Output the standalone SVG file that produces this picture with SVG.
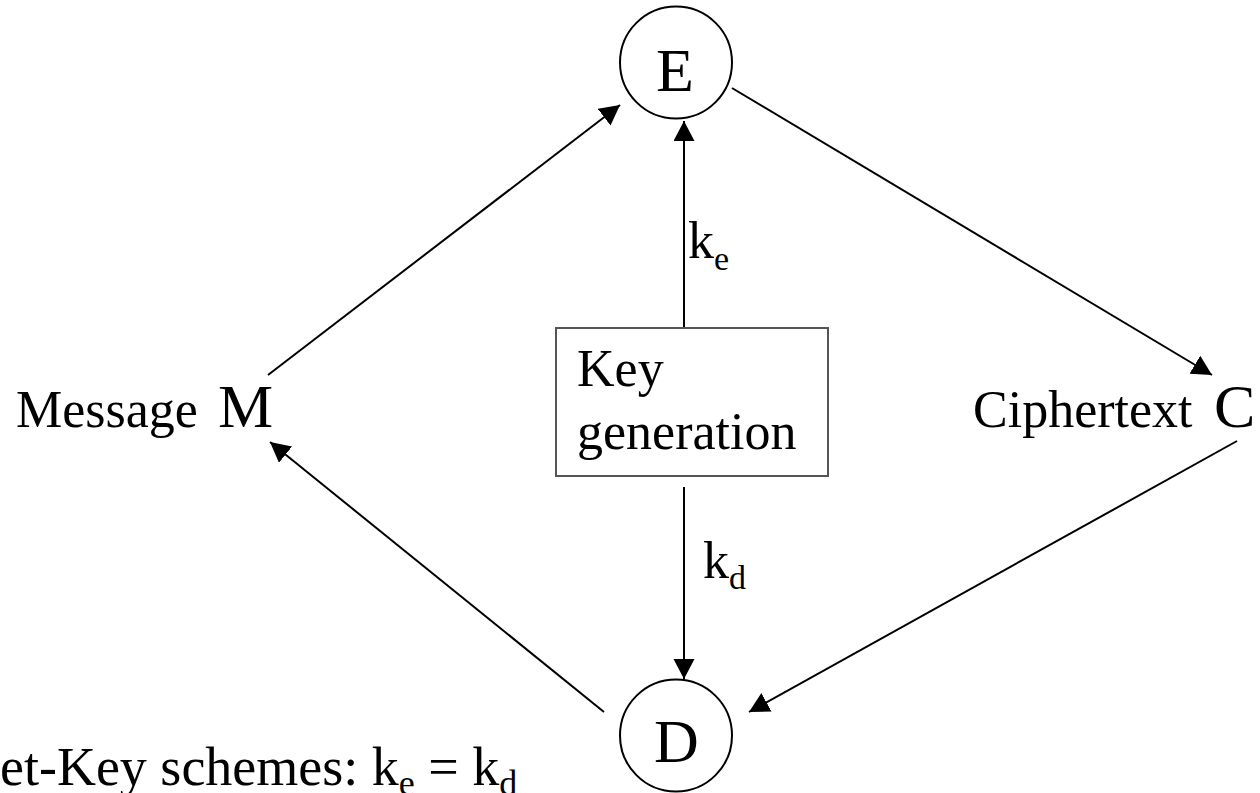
<svg xmlns="http://www.w3.org/2000/svg" width="1260" height="793" viewBox="0 0 1260 793">
<style>
.t{font-family:"Liberation Serif","Times New Roman",serif;fill:#000}
.c{fill:#fff;stroke:#000;stroke-width:2}
.e{stroke:#000;stroke-width:2;fill:none}
</style>
<defs>
<marker id="ah" markerUnits="userSpaceOnUse" markerWidth="22" markerHeight="22" refX="20" refY="10.5" orient="auto">
<path d="M0,0 L20,10.5 L0,21 Z" fill="#000"/>
</marker>
</defs>
<rect width="1260" height="793" fill="#fff"/>
<g id="connectors">
<line class="e" x1="268" y1="375" x2="620" y2="105" marker-end="url(#ah)"/>
<line class="e" x1="732" y1="88" x2="1212" y2="375" marker-end="url(#ah)"/>
<line class="e" x1="1237" y1="441" x2="749" y2="712" marker-end="url(#ah)"/>
<line class="e" x1="604" y1="712" x2="270" y2="442" marker-end="url(#ah)"/>
<line class="e" x1="684" y1="328" x2="684" y2="121" marker-end="url(#ah)"/>
<line class="e" x1="684" y1="487" x2="684" y2="679" marker-end="url(#ah)"/>
<text class="t" x="688" y="258" font-size="52">k<tspan font-size="34" dy="12">e</tspan></text>
<text class="t" x="703" y="578" font-size="52">k<tspan font-size="34" dy="11">d</tspan></text>
</g>
<g id="node-E">
<circle class="c" cx="676" cy="62.5" r="56"/>
<text class="t" x="675" y="91" font-size="62" text-anchor="middle">E</text>
</g>
<g id="node-D">
<circle class="c" cx="676" cy="735.5" r="56"/>
<text class="t" x="676.5" y="762" font-size="62" text-anchor="middle">D</text>
</g>
<g id="node-keygen">
<rect x="556" y="328" width="272" height="148" fill="#fff" stroke="#555" stroke-width="2"/>
<text class="t" x="577" y="386" font-size="52">Key</text>
<text class="t" x="577" y="449" font-size="52">generation</text>
</g>
<g id="node-M">
<text class="t" x="16" y="427" font-size="52">Message <tspan x="218" font-size="62">M</tspan></text>
</g>
<g id="node-C">
<text class="t" x="973" y="427" font-size="52">Ciphertext <tspan x="1214" font-size="62">C</tspan></text>
</g>
<g id="caption">
<text class="t" x="-96" y="785" font-size="54">Secret-Key schemes: k<tspan font-size="36" dy="10">e</tspan><tspan dy="-10"> = k</tspan><tspan font-size="36" dy="10">d</tspan></text>
</g>
</svg>
